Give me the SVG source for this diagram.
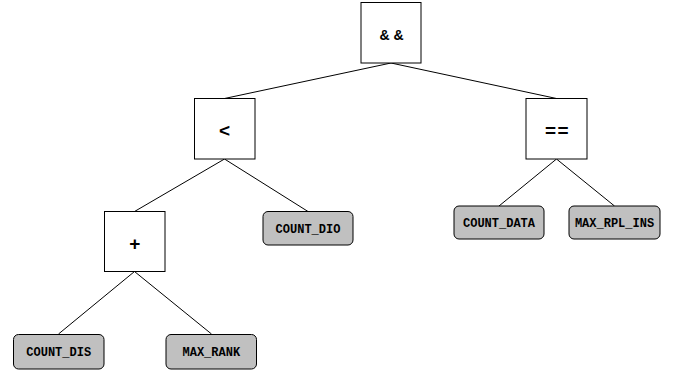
<svg xmlns="http://www.w3.org/2000/svg" width="678" height="377" viewBox="0 0 678 377">
<style>
.op rect{fill:#fff;stroke:#000;stroke-width:1}
.op text{font-family:"Liberation Sans",Arial,sans-serif;font-weight:bold;font-size:19px;text-anchor:middle;fill:#000}
.leaf rect{fill:#c0c0c0;stroke:#000;stroke-width:1}
.leaf text{font-family:"Liberation Mono","Courier New",monospace;font-weight:bold;font-size:12px;text-anchor:middle;fill:#000}
#edges line{stroke:#000;stroke-width:1}
</style>
<rect width="678" height="377" fill="#fff"/>
<g id="edges">
<line x1="391" y1="63" x2="224.5" y2="98.5"/>
<line x1="391" y1="63" x2="556.5" y2="98.5"/>
<line x1="224.5" y1="159" x2="134.5" y2="211.5"/>
<line x1="224.5" y1="159" x2="308" y2="211.5"/>
<line x1="134.5" y1="271.5" x2="58.5" y2="334"/>
<line x1="134.5" y1="271.5" x2="211.5" y2="334"/>
<line x1="556.5" y1="159" x2="499" y2="206"/>
<line x1="556.5" y1="159" x2="614.5" y2="206"/>
</g>
<g id="and" class="op"><rect x="361" y="2.5" width="60" height="60.5"/><text x="393.5" y="39.5" style="font-size:14px;letter-spacing:4px">&amp;&amp;</text></g>
<g id="lt" class="op"><rect x="194.5" y="98.5" width="60.5" height="60.5"/><text x="224.5" y="137">&lt;</text></g>
<g id="eq" class="op"><rect x="526" y="98.5" width="61" height="60.5"/><text x="557.5" y="137" style="letter-spacing:1.5px">==</text></g>
<g id="plus" class="op"><rect x="104.5" y="211.5" width="60.5" height="60"/><text x="134.7" y="250">+</text></g>
<g id="count_dis" class="leaf"><rect x="13.5" y="334.5" width="90.5" height="34.5" rx="5"/><text x="58.7" y="356">COUNT_DIS</text></g>
<g id="max_rank" class="leaf"><rect x="166" y="334.5" width="90.5" height="34.5" rx="5"/><text x="211.3" y="356">MAX_RANK</text></g>
<g id="count_dio" class="leaf"><rect x="263" y="211.5" width="90" height="33.5" rx="5"/><text x="308" y="232.5">COUNT_DIO</text></g>
<g id="count_data" class="leaf"><rect x="454" y="206" width="90" height="33" rx="5"/><text x="499" y="226.5">COUNT_DATA</text></g>
<g id="max_rpl_ins" class="leaf"><rect x="569" y="206" width="91" height="33" rx="5"/><text x="614.5" y="226.5">MAX_RPL_INS</text></g>
</svg>
